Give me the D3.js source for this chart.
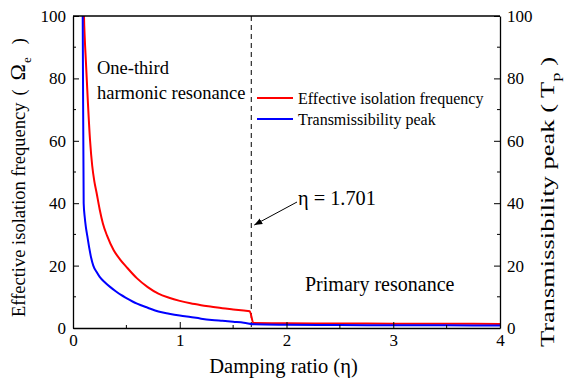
<!DOCTYPE html>
<html><head><meta charset="utf-8">
<script src="https://cdn.jsdelivr.net/npm/d3@7"></script>
<style>body{margin:0;background:#fff}svg{display:block}</style>
</head><body><svg id="c" width="564" height="383"></svg>
<script>
const etaRed = [0.100,0.103,0.11,0.12,0.13,0.14,0.16,0.18,0.20,0.22,0.25,0.28,0.32,0.38,0.44,0.50,0.60,0.70,0.80,0.90,1.00,1.10,1.20,1.30,1.40,1.50,1.60,1.655,1.69,2.0,2.5,3.0,3.5,4.0];
const omegaE = [106,100,93,86,79,72,60,52,47,43.5,38,33.5,29.5,25,22,19.6,15.9,13.1,11.0,9.7,8.7,7.9,7.3,6.8,6.3,5.95,5.6,5.4,1.6,1.5,1.45,1.4,1.35,1.3];
const etaBlue = [0.089,0.091,0.100,0.11,0.12,0.134,0.153,0.17,0.19,0.22,0.25,0.30,0.35,0.40,0.45,0.50,0.60,0.70,0.80,0.90,1.00,1.10,1.20,1.30,1.40,1.50,1.60,1.70,2.0,2.5,3.0,3.5,4.0];
const peakT = [108,100,40,35.5,32.5,29.5,25.5,22.5,20,18,16.4,14.6,13.1,11.8,10.6,9.6,7.8,6.5,5.3,4.6,4.0,3.5,3.0,2.6,2.3,2.0,1.7,1.2,1.05,0.95,0.9,0.85,0.8];
const xTicks = [0,1,2,3,4];
const yTicks = [0,20,40,60,80,100];
const critical = 1.67;
const seriesNames = ["Effective isolation frequency","Transmissibility peak"];
const colors = ["#ff0000","#0000ff"];

const FONT = "Liberation Serif";
const svg = d3.select("#c");
const L=73,R=500,T=16,B=328;
const x = d3.scaleLinear().domain([0,4]).range([L,R]);
const y = d3.scaleLinear().domain([0,100]).range([B,T]);
const y2 = d3.scaleLinear().domain([0,100]).range([B,T]);

const defs = svg.append("defs");
defs.append("clipPath").attr("id","clip").append("rect")
  .attr("x",L).attr("y",T).attr("width",R-L).attr("height",B-T);

// dashed line
svg.append("line").attr("x1",x(critical)).attr("x2",x(critical)).attr("y1",T).attr("y2",B)
  .attr("stroke","#000").attr("stroke-width",1).attr("stroke-dasharray","5,4");

const g = svg.append("g").attr("clip-path","url(#clip)");
g.append("path").datum(etaRed.map((e,i)=>[e,omegaE[i]]))
  .attr("d",d3.line().x(d=>x(d[0])).y(d=>y(d[1])).curve(d3.curveMonotoneX))
  .attr("fill","none").attr("stroke",colors[0]).attr("stroke-width",2);
g.append("path").datum(etaBlue.map((e,i)=>[e,peakT[i]]))
  .attr("d",d3.line().x(d=>x(d[0])).y(d=>y2(d[1])).curve(d3.curveMonotoneX))
  .attr("fill","none").attr("stroke",colors[1]).attr("stroke-width",2);

// frame top
svg.append("line").attr("x1",L).attr("x2",R).attr("y1",T).attr("y2",T).attr("stroke","#000").attr("stroke-width",1.3);

function styleAxis(sel){sel.attr("font-family",FONT).attr("font-size",17);
  sel.select(".domain").attr("stroke-width",1.3);sel.selectAll("line").attr("stroke-width",1);
  sel.selectAll("text").attr("fill","#000");}

const xAx = svg.append("g").attr("transform",`translate(0,${B})`)
  .call(d3.axisBottom(x).tickValues(xTicks).tickFormat(d3.format("d")).tickSizeInner(-6).tickSizeOuter(0).tickPadding(4));
styleAxis(xAx); xAx.selectAll("text").attr("y",6);
xAx.selectAll(".minor").data(d3.range(0.5,4,1)).enter().append("line").attr("class","minor")
  .attr("x1",d=>x(d)).attr("x2",d=>x(d)).attr("y1",0).attr("y2",-3).attr("stroke","#000");

const yAx = svg.append("g").attr("transform",`translate(${L},0)`)
  .call(d3.axisLeft(y).tickValues(yTicks).tickFormat(d3.format("d")).tickSizeInner(-6).tickSizeOuter(0).tickPadding(7));
styleAxis(yAx);
yAx.selectAll(".minor").data(d3.range(10,100,20)).enter().append("line").attr("class","minor")
  .attr("x1",0).attr("x2",3).attr("y1",d=>y(d)).attr("y2",d=>y(d)).attr("stroke","#000");

const y2Ax = svg.append("g").attr("transform",`translate(${R},0)`)
  .call(d3.axisRight(y2).tickValues(yTicks).tickFormat(d3.format("d")).tickSizeInner(-6).tickSizeOuter(0).tickPadding(7));
styleAxis(y2Ax);
y2Ax.selectAll(".minor").data(d3.range(10,100,20)).enter().append("line").attr("class","minor")
  .attr("x1",0).attr("x2",-3).attr("y1",d=>y2(d)).attr("y2",d=>y2(d)).attr("stroke","#000");

function txt(px){return svg.append("text").attr("font-family",FONT).attr("font-size",px).attr("fill","#000");}
// axis titles
txt(20.5).attr("x",(L+R)/2-3).attr("y",373).attr("text-anchor","middle").text("Damping ratio (η)");
const lt = txt(18.5).attr("transform","translate(25,317) rotate(-90)");
lt.append("tspan").text("Effective isolation frequency");
lt.append("tspan").attr("dx",7).text("(");
lt.append("tspan").attr("dx",9).attr("font-size",22).text("Ω");
lt.append("tspan").attr("dx",1).attr("dy",6).attr("font-size",13).text("e");
lt.append("tspan").attr("dx",13).attr("dy",-6).text(")");
const rt = txt(18.5).attr("transform","translate(554,347) rotate(-90)")
  .attr("textLength",290).attr("lengthAdjust","spacingAndGlyphs");
rt.append("tspan").text("Transmissibility peak ( T");
rt.append("tspan").attr("dy",6).attr("font-size",13).text("p");
rt.append("tspan").attr("dy",-6).text(" )");

// annotations
txt(18.5).attr("x",97).attr("y",74).text("One-third");
txt(18.5).attr("x",97).attr("y",99).text("harmonic resonance");
txt(20).attr("x",305).attr("y",291).text("Primary resonance");
txt(20.3).attr("x",298).attr("y",205).text("η = 1.701");
defs.append("marker").attr("id","arr").attr("viewBox","0 0 10 10").attr("refX",10).attr("refY",5)
  .attr("markerWidth",8).attr("markerHeight",8).attr("orient","auto").attr("markerUnits","userSpaceOnUse")
  .append("path").attr("d","M0,1 L10,5 L0,9 Z").attr("fill","#000");
svg.append("line").attr("x1",297).attr("y1",202).attr("x2",x(critical)+3).attr("y2",225)
  .attr("stroke","#000").attr("stroke-width",1).attr("marker-end","url(#arr)");

// legend
seriesNames.forEach((n,i)=>{
  const yy = 98 + i*21;
  svg.append("line").attr("x1",257).attr("x2",293).attr("y1",yy).attr("y2",yy).attr("stroke",colors[i]).attr("stroke-width",2);
  txt(16).attr("x",298).attr("y",yy+5.5).text(n);
});
</script></body></html>
